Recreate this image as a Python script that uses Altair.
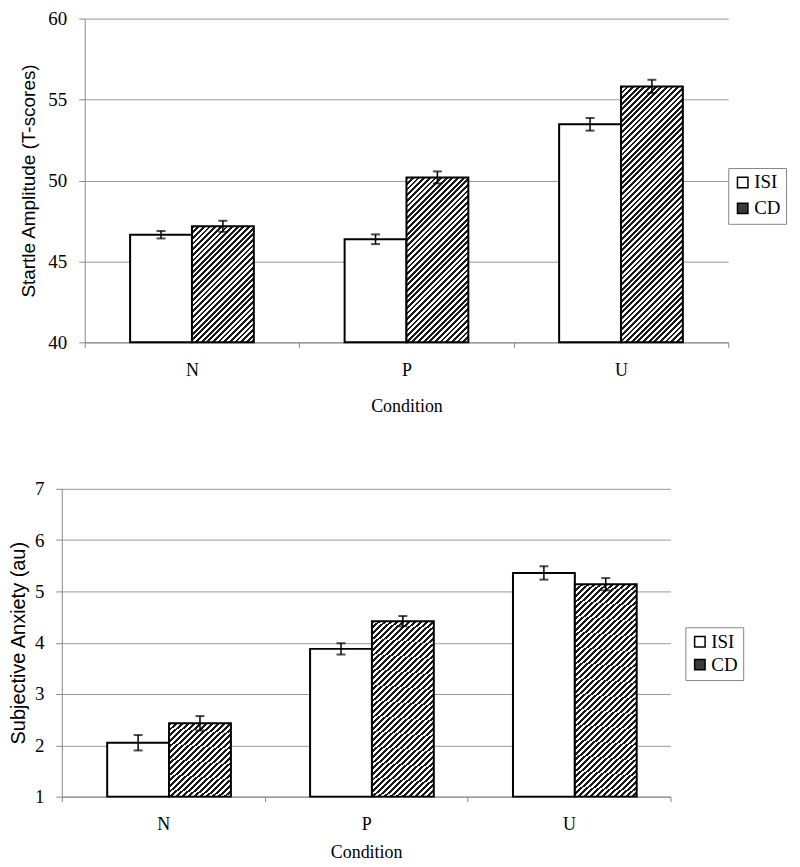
import math
import altair as alt
import pandas as pd

conditions = ["N", "P", "U"]
groups = ["ISI", "CD"]

startle_isi = [46.65, 46.37, 53.47]
startle_cd = [47.17, 50.19, 55.81]
startle_isi_err = [0.23, 0.30, 0.39]
startle_cd_err = [0.34, 0.37, 0.41]

anx_isi = [2.05, 3.88, 5.36]
anx_cd = [2.43, 4.42, 5.14]
anx_isi_err = [0.15, 0.11, 0.13]
anx_cd_err = [0.14, 0.10, 0.12]

startle_ticks = [40, 45, 50, 55, 60]
anx_ticks = [1, 2, 3, 4, 5, 6, 7]

SERIF = "Liberation Serif"
SANS = "Liberation Sans"


def make_df(isi, cd, eisi, ecd):
    rows = []
    for i, c in enumerate(conditions):
        rows.append({"cond": c, "group": "ISI", "value": isi[i], "lo": isi[i] - eisi[i], "hi": isi[i] + eisi[i]})
        rows.append({"cond": c, "group": "CD", "value": cd[i], "lo": cd[i] - ecd[i], "hi": cd[i] + ecd[i]})
    return pd.DataFrame(rows)


def hatch(w, h, period=4.0, frac=0.5):
    L = w + h
    step = period * math.sqrt(2)
    k = (w + h) / (w * w + h * h)
    stops = []
    n = int(L / step) + 2
    for i in range(n):
        a = i * step / L
        b = (i + frac) * step / L
        c = (i + 1) * step / L
        if a > 1:
            break
        stops.append({"offset": round(min(a, 1), 5), "color": "#1a1a1a"})
        stops.append({"offset": round(min(b, 1), 5), "color": "#1a1a1a"})
        if b <= 1:
            stops.append({"offset": round(min(b, 1), 5), "color": "white"})
            stops.append({"offset": round(min(c, 1), 5), "color": "white"})
    return {"gradient": "linear", "x1": 0, "y1": 0, "x2": w * k, "y2": h * k, "stops": stops}


def panel(df, cd_vals, ymin, ymax, ticks, W, H, ytitle, ytitle_size, pad_outer, lx, ly,
          y_title_pad, x_title_pad, left_shift, row_pad):
    total_w = W + left_shift
    band = W / len(conditions)
    bar_w = band / (2 + 2 * pad_outer)
    x = alt.X("cond:N", sort=conditions,
              scale=alt.Scale(domain=conditions, paddingInner=0, paddingOuter=0,
                              range=[left_shift, total_w]),
              axis=alt.Axis(title="Condition", tickBand="extent", labelAngle=0, grid=False,
                            tickSize=5, labelPadding=14, titlePadding=x_title_pad,
                            labelFont=SERIF, labelFontSize=18, titleFont=SERIF,
                            titleFontSize=18, titleFontWeight="normal"))
    xo = alt.XOffset("group:N", sort=groups,
                     scale=alt.Scale(domain=groups, paddingOuter=pad_outer, paddingInner=0))
    axis_kw = dict(title=ytitle, values=ticks, grid=True, tickSize=6, labelPadding=12,
                   titlePadding=y_title_pad, labelFont=SERIF, labelFontSize=19,
                   titleFont=SANS, titleFontSize=ytitle_size, titleFontWeight="normal")
    if left_shift:
        axis_kw["offset"] = -left_shift
    yaxis = alt.Axis(**axis_kw)
    yscale = alt.Scale(domain=[ymin, ymax], zero=False, nice=False)

    def Y(field):
        return alt.Y(f"{field}:Q", scale=yscale, axis=yaxis)

    base = alt.Chart(df)
    isi = base.transform_filter("datum.group == 'ISI'").mark_bar(
        stroke="black", strokeWidth=2
    ).encode(
        x=x, xOffset=xo, y=Y("value"), y2=alt.datum(ymin),
        fill=alt.Fill("group:N", sort=groups,
                      scale=alt.Scale(domain=groups, range=["white", "#3a3a3a"]),
                      legend=alt.Legend(title=None, orient="none", legendX=lx, legendY=ly,
                                        symbolType="square", symbolSize=110,
                                        symbolStrokeColor="black", symbolStrokeWidth=1.5,
                                        labelFont=SERIF, labelFontSize=19, labelColor="black",
                                        strokeColor="#888", fillColor="white", padding=5,
                                        rowPadding=row_pad, labelOffset=2))
    )
    layers = [isi]
    for i, c in enumerate(conditions):
        h = (cd_vals[i] - ymin) / (ymax - ymin) * H
        layers.append(
            base.transform_filter(f"datum.group == 'CD' && datum.cond == '{c}'").mark_bar(
                fill=hatch(bar_w, h), stroke="black", strokeWidth=2
            ).encode(x=x, xOffset=xo, y=Y("value"), y2=alt.datum(ymin))
        )
    layers.append(base.mark_rule(color="black", strokeWidth=1.5).encode(
        x=x, xOffset=xo, y=Y("lo"), y2="hi:Q"))
    layers.append(base.mark_tick(color="black", thickness=2, size=9).encode(
        x=x, xOffset=xo, y=Y("lo")))
    layers.append(base.mark_tick(color="black", thickness=2, size=9).encode(
        x=x, xOffset=xo, y=Y("hi")))
    return alt.layer(*layers).properties(width=total_w, height=H)


top = panel(make_df(startle_isi, startle_cd, startle_isi_err, startle_cd_err), startle_cd,
            40, 60, startle_ticks, 646, 325, "Startle Amplitude (T-scores)", 19, 0.734,
            669, 150, 9, 18, 23, 6)
bottom = panel(make_df(anx_isi, anx_cd, anx_isi_err, anx_cd_err), anx_cd,
               1, 7, anx_ticks, 611, 309, "Subjective Anxiety (au)", 20, 0.756,
               626, 139, 6, 10, 0, 3)

chart = alt.vconcat(top, bottom, spacing=65).resolve_scale(
    fill="independent"
).resolve_legend(
    fill="independent"
).configure_view(
    stroke=None
).configure_axis(
    domainColor="#888", tickColor="#888", gridColor="#999", labelColor="black",
    titleColor="black"
).properties(padding={"left": 0, "top": 0, "right": 5, "bottom": 5})

chart.save("out.html", embed_options={"renderer": "svg", "actions": False})
